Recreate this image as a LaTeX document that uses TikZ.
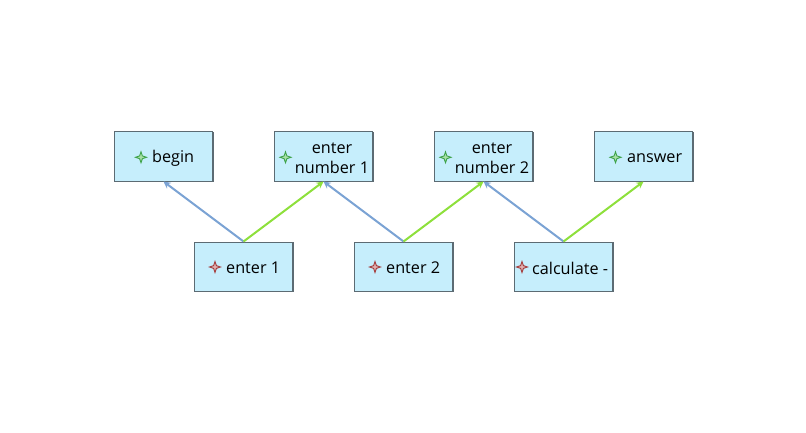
\documentclass[tikz,border=0pt]{standalone}
\usepackage{fontspec}
\setmainfont{Open Sans}
\usetikzlibrary{arrows.meta}
\definecolor{boxfill}{HTML}{C6EEFC}
\definecolor{boxline}{HTML}{5C6B73}
\definecolor{edgeblue}{HTML}{7BA3D4}
\definecolor{edgegreen}{HTML}{8EE03C}
\definecolor{stargreen}{HTML}{3FA34A}
\definecolor{stargreenfill}{HTML}{A8E0A8}
\definecolor{starred}{HTML}{A33A3A}
\definecolor{starredfill}{HTML}{E0B0B0}
\tikzset{
  box/.style={draw=boxline, line width=1pt, fill=boxfill, minimum width=98pt, minimum height=49pt, inner sep=0pt},
  lbl/.style={font=\fontsize{16.2}{20.5}\selectfont, inner sep=0pt, align=center, text=black},
  blueedge/.style={draw=edgeblue, line width=2pt, -{Stealth[length=7pt,width=7pt]}},
  greenedge/.style={draw=edgegreen, line width=2pt, -{Stealth[length=7pt,width=7pt]}},
  gstar/.pic={\filldraw[draw=stargreen, fill=stargreenfill, line width=0.9pt]
     (0,-5.5)--(1.4,-1.4)--(5.5,0)--(1.4,1.4)--(0,5.5)--(-1.4,1.4)--(-5.5,0)--(-1.4,-1.4)--cycle;},
  rstar/.pic={\filldraw[draw=starred, fill=starredfill, line width=0.9pt]
     (0,-5.5)--(1.4,-1.4)--(5.5,0)--(1.4,1.4)--(0,5.5)--(-1.4,1.4)--(-5.5,0)--(-1.4,-1.4)--cycle;},
}
\begin{document}
\begin{tikzpicture}[x=1pt,y=-1pt]
\useasboundingbox[fill=white] (0,0) rectangle (806,433);
% shadows
\foreach \cx/\cy in {163.5/156.5, 323.5/156.5, 483.5/156.5, 643.5/156.5, 243.5/266.5, 403.5/266.5, 563.5/266.5}
  \draw[boxline, line width=1.3pt] (\cx-49,\cy+25.3) -- (\cx+49.6,\cy+25.3) -- (\cx+49.6,\cy-24.5);
% boxes
\node[box] (begin) at (163.5,156.5) {};
\node[box] (num1) at (323.5,156.5) {};
\node[box] (num2) at (483.5,156.5) {};
\node[box] (ans) at (643.5,156.5) {};
\node[box] (e1) at (243.5,266.5) {};
\node[box] (e2) at (403.5,266.5) {};
\node[box] (calc) at (563.5,266.5) {};
% icons
\pic (ibegin) at (141,157.3) {gstar};
\pic (inum1) at (285.5,157.3) {gstar};
\pic (inum2) at (445.5,157.3) {gstar};
\pic (ians) at (615.5,157.3) {gstar};
\pic (ie1) at (215,267) {rstar};
\pic (ie2) at (375,267) {rstar};
\pic (icalc) at (522,267) {rstar};
% labels
\node[lbl, anchor=west] (tbegin) at (152,158) {begin};
\node[lbl] (tnum1) at (332,158) {enter\\number 1};
\node[lbl] (tnum2) at (492,158) {enter\\number 2};
\node[lbl, anchor=west] (tans) at (627,158) {answer};
\node[lbl, anchor=west] (te1) at (226,268) {enter 1};
\node[lbl, anchor=west] (te2) at (386,268) {enter 2};
\node[lbl, anchor=west] (tcalc) at (532,268) {calculate -};
% edges
\draw[blueedge] (e1.north) -- (begin.south);
\draw[greenedge] (e1.north) -- (num1.south);
\draw[blueedge] (e2.north) -- (num1.south);
\draw[greenedge] (e2.north) -- (num2.south);
\draw[blueedge] (calc.north) -- (num2.south);
\draw[greenedge] (calc.north) -- (ans.south);
\end{tikzpicture}
\end{document}
